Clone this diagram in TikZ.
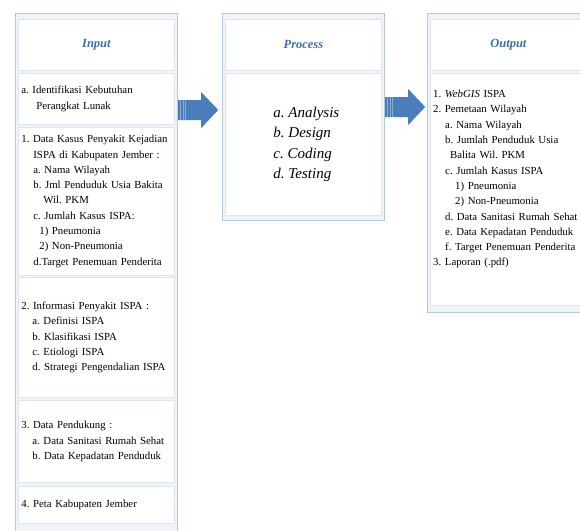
\documentclass[tikz,border=0pt]{standalone}
\usepackage{fontspec}
\setmainfont{Liberation Serif}
\usetikzlibrary{positioning,calc}
\frenchspacing

\definecolor{panelline}{RGB}{183,199,220}
\definecolor{panelfill}{RGB}{239,244,250}
\definecolor{cellline}{RGB}{222,229,238}
\definecolor{titleblue}{RGB}{62,110,168}
\definecolor{arrowblue}{RGB}{74,126,187}
\newcommand{\ind}[1]{\hspace*{#1pt}}

\begin{document}
\begin{tikzpicture}[x=1pt, y=-1pt,
  panel/.style={draw=panelline, line width=1.2pt, fill=panelfill, anchor=north west,
    minimum width=162pt, inner sep=0pt},
  cell/.style={draw=cellline, line width=0.8pt, fill=white, anchor=north west,
    minimum width=156pt, inner sep=0pt},
  title/.style={cell, minimum height=51pt, font=\fontsize{12.5}{15}\selectfont\bfseries\itshape,
    text=titleblue},
  listcell/.style={cell, text width=150pt, inner xsep=3pt, align=left,
    font=\fontsize{10.8}{15.3}\selectfont},
  blockarrow/.style={fill=arrowblue}]
\clip (0,0) rectangle (580,530);

% panels
\node[panel, minimum height=525pt] (inP) at (15,13) {};
\node[panel, minimum height=207pt] (prP) at (222,13) {};
\node[panel, minimum height=299pt] (outP) at (427,13) {};

% input column
\node[title] (inT) at (18,19) {Input};
\node[listcell, minimum height=51pt] (inA) at (18,73)
  {a. Identifikasi Kebutuhan\\\ind{15}Perangkat Lunak};
\node[listcell, minimum height=148pt] (in1) at (18,127)
  {1. Data Kasus Penyakit Kejadian\\
   \ind{12}ISPA di Kabupaten Jember :\\
   \ind{12}a. Nama Wilayah\\
   \ind{12}b. Jml Penduduk Usia Bakita\\
   \ind{22}Wil. PKM\\
   \ind{12}c. Jumlah Kasus ISPA:\\
   \ind{18}1) Pneumonia\\
   \ind{18}2) Non-Pneumonia\\
   \ind{12}d.Target Penemuan Penderita};
\node[listcell, minimum height=120pt] (in2) at (18,277)
  {2. Informasi Penyakit ISPA :\\
   \ind{11}a. Definisi ISPA\\
   \ind{11}b. Klasifikasi ISPA\\
   \ind{11}c. Etiologi ISPA\\
   \ind{11}d. Strategi Pengendalian ISPA};
\node[listcell, minimum height=82pt] (in3) at (18,400)
  {3. Data Pendukung :\\
   \ind{11}a. Data Sanitasi Rumah Sehat\\
   \ind{11}b. Data Kepadatan Penduduk};
\node[listcell, minimum height=37pt] (in4) at (18,486)
  {4. Peta Kabupaten Jember};

% process column
\node[title] (prT) at (225,19) {Process};
\node[cell, minimum height=142pt] (prC) at (225,73) {};
\node[align=left, inner sep=0pt, font=\fontsize{15}{20.5}\selectfont\itshape,
  xshift=3pt] (prL) at (prC.center)
  {a. Analysis\\b. Design\\c. Coding\\d. Testing};

% output column
\node[title] (outT) at (430,19) {Output};
\node[cell, minimum height=232pt] (outC) at (430,73) {};
\node[anchor=north west, text width=150pt, align=left, inner sep=0pt,
  font=\fontsize{10.8}{15.3}\selectfont] (outL) at (433,90)
  {1. \textit{WebGIS} ISPA\\
   2. Pemetaan Wilayah\\
   \ind{12}a. Nama Wilayah\\
   \ind{12}b. Jumlah Penduduk Usia\\
   \ind{17}Balita Wil. PKM\\
   \ind{12}c. Jumlah Kasus ISPA\\
   \ind{22}1) Pneumonia\\
   \ind{22}2) Non-Pneumonia\\
   \ind{12}d. Data Sanitasi Rumah Sehat\\
   \ind{12}e. Data Kepadatan Penduduk\\
   \ind{12}f. Target Penemuan Penderita\\
   3. Laporan (.pdf)};

% arrows between panels
\foreach \from/\dy in {inP/97, prP/94}{
  \coordinate (s) at ($(\from.north east)+(0,\dy)$);
  \fill[blockarrow] (s) ++(0,-10) -- ++(23,0) -- ++(0,-8) -- ++(17,18)
    -- ++(-17,18) -- ++(0,-8) -- ++(-23,0) -- cycle;
  \foreach \dx in {2.5,5,7.5}
    \draw[white, opacity=0.35, line width=0.5pt] ($(s)+(\dx,-10)$) -- ++(0,20);
}
\end{tikzpicture}
\end{document}
